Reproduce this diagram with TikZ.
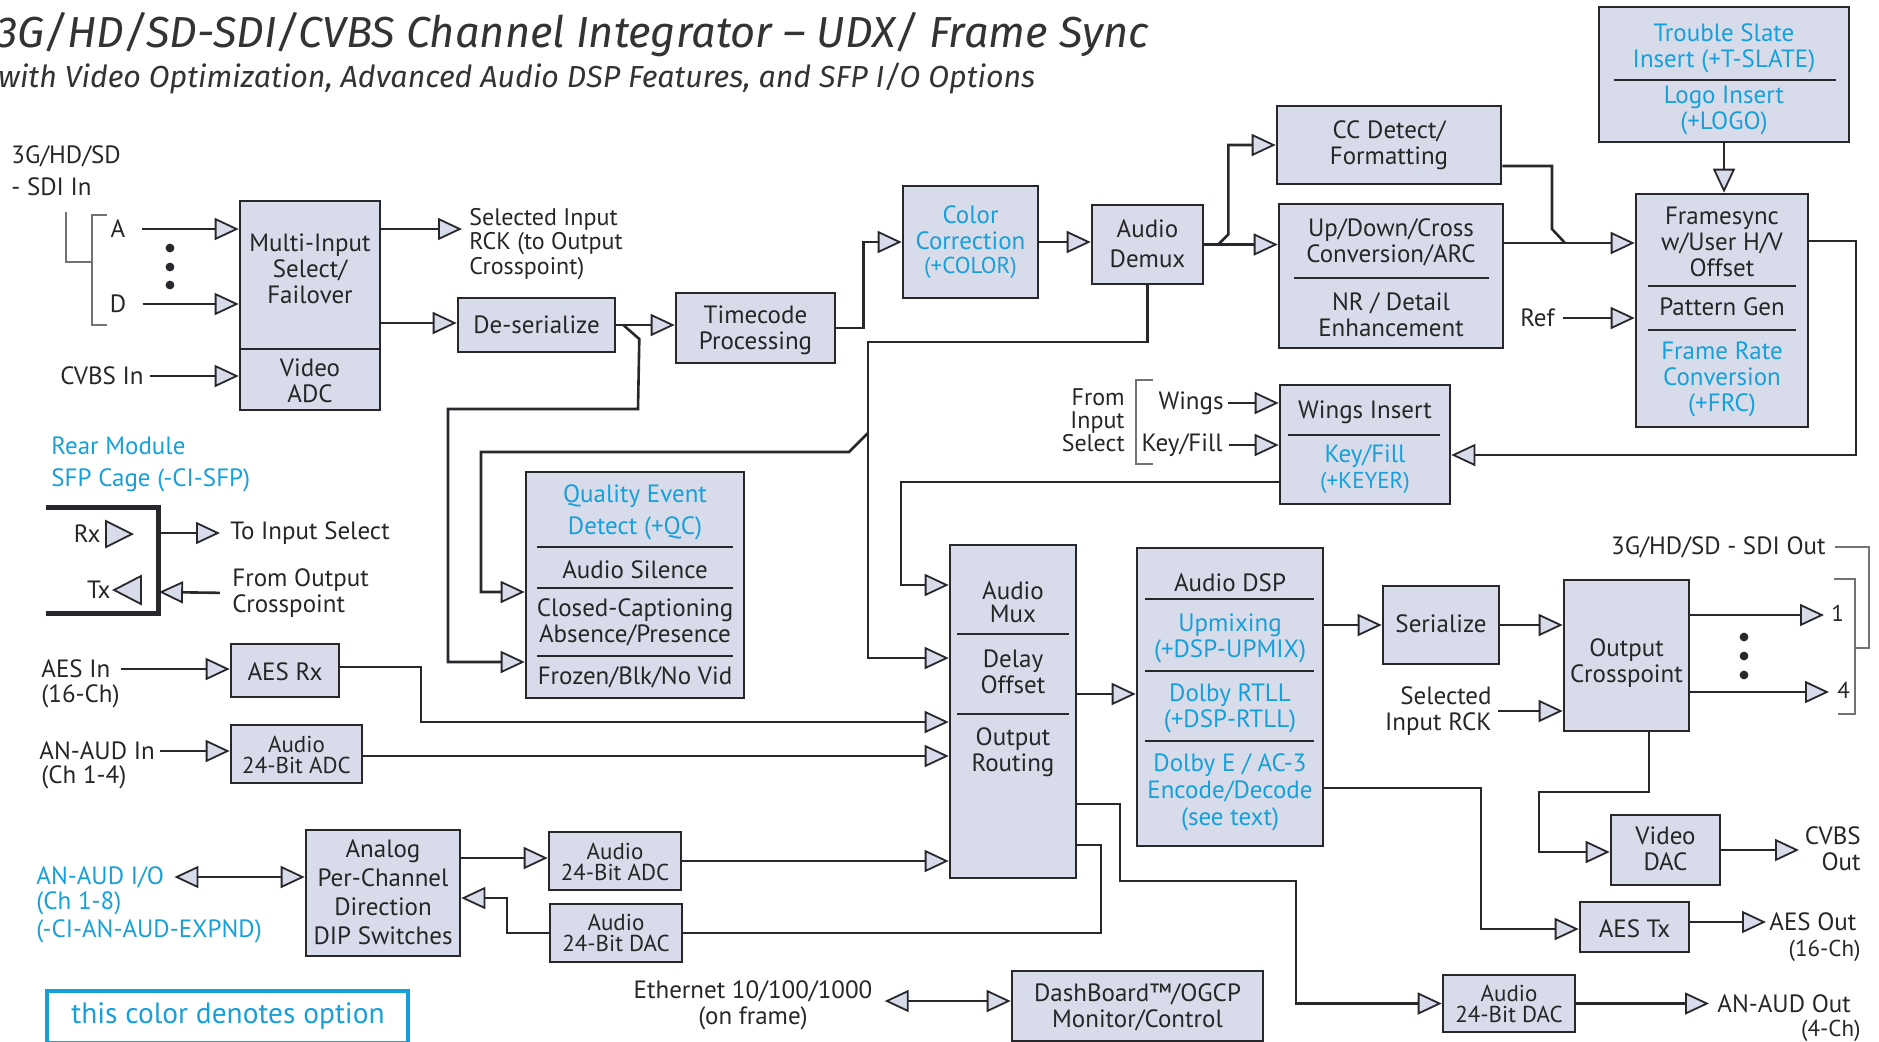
\documentclass[tikz,border=0pt]{standalone}
\usepackage{fontspec}
\setmainfont{PT Sans}
\newfontfamily\titlefont{Fira Sans}
\usepackage{tikz}
\usepackage{xcolor}
\usetikzlibrary{arrows.meta, calc}
\definecolor{boxfill}{RGB}{216,219,234}
\definecolor{optblue}{RGB}{22,160,219}
\definecolor{linecol}{RGB}{40,40,44}

\begin{document}
\begin{tikzpicture}[x=0.5pt, y=-0.5pt, line join=miter,
  blk/.style={draw=linecol, fill=boxfill, line width=1.3pt, inner sep=0pt},
  lbl/.style={font=\fontsize{12.5}{13}\selectfont, align=center, inner sep=0pt, text=black!85},
  sml/.style={font=\fontsize{11.5}{10.5}\selectfont, align=center, inner sep=0pt, text=black!85},
  opt/.style={text=optblue},
  wire/.style={draw=linecol, line width=1.3pt},
  arr/.style={wire, -{Triangle[length=12pt, width=11pt, fill=boxfill, line width=0.9pt]}},
  darr/.style={wire, {Triangle[length=12pt, width=11pt, fill=boxfill, line width=0.9pt]}-{Triangle[length=12pt, width=11pt, fill=boxfill, line width=0.9pt]}},
  sep/.style={draw=linecol, line width=0.9pt},
  brk/.style={draw=black!55, line width=0.8pt}]
\useasboundingbox (0,0) rectangle (1879,1041);

% Title
\node[anchor=base west, inner sep=0pt, font=\titlefont\itshape\fontsize{21.7}{22}\selectfont, text=black!80] (title) at (-4,47) {3G/HD/SD-SDI/CVBS Channel Integrator – UDX/ Frame Sync};
\node[anchor=base west, inner sep=0pt, font=\titlefont\itshape\fontsize{15.2}{16}\selectfont, text=black!80] (subtitle) at (-2,87) {with Video Optimization, Advanced Audio DSP Features, and SFP I/O Options};

% SDI inputs and input select
\node[lbl, anchor=west, align=left] (sdiin) at (11,171) {3G/HD/SD\\[3pt]- SDI In};
\draw[brk] (107,215) -- (92,215) -- (92,325) -- (107,325);
\draw[brk] (66,212) -- (66,262) -- (92,262);
\node[lbl] (ina) at (118,229) {A};
\node[lbl] (ind) at (118,304) {D};
\foreach \y in {248,267,285} {
    \fill[linecol] (170,\y) circle (2.2pt);
}
\node[lbl, anchor=east] (cvbsin) at (144,376) {CVBS In};
\node[blk, minimum width=70pt, minimum height=104.5pt] (mis) at (310,305.5) {};
\draw[sep] (mis.west |- 0,349) -- (mis.east |- 0,349);
\node[lbl] (mist) at (310,269) {Multi-Input\\Select/\\Failover};
\node[lbl] (misv) at (310,381) {Video\\ADC};
\node[lbl, anchor=west, align=left, font=\fontsize{12}{12.3}\selectfont] (selrck) at (469,244) {Selected Input\\RCK (to Output\\Crosspoint)};
\coordinate (selrcktip) at (462,229);

% Video path
\node[blk, minimum width=78.5pt, minimum height=27pt] (des) at (536.5,325) {};
\node[lbl] (dest) at (536.5,325) {De-serialize};
\node[blk, minimum width=79.5pt, minimum height=35pt] (tc) at (755.5,328) {};
\node[lbl] (tct) at (755.5,330) {Timecode\\Processing};
\node[blk, minimum width=67.5pt, minimum height=56pt] (cc) at (970.5,242) {};
\node[lbl, opt] (cct) at (970.5,228) {Color\\Correction};
\node[sml, opt] (cco) at (970.5,268) {(+COLOR)};
\node[blk, minimum width=55.5pt, minimum height=39.5pt] (dmx) at (1147.5,244.5) {};
\node[lbl] (dmxt) at (1147.5,244) {Audio\\[2pt]Demux};
\node[blk, minimum width=112pt, minimum height=39pt] (ccd) at (1389,145) {};
\node[lbl] (ccdt) at (1389,145) {CC Detect/\\Formatting};
\node[blk, minimum width=112pt, minimum height=72pt] (udc) at (1391,276) {};
\draw[sep] (1294,278) -- (1489,278);
\node[lbl] (udct) at (1391,242) {Up/Down/Cross\\Conversion/ARC};
\node[lbl] (udcn) at (1391,315) {NR / Detail\\Enhancement};
\node[blk, minimum width=125pt, minimum height=67.5pt] (slate) at (1724,74.5) {};
\draw[sep] (1614,80) -- (1836,80);
\node[lbl, opt] (slatet) at (1724,48) {Trouble Slate\\Insert (+T-SLATE)};
\node[lbl, opt] (slatel) at (1724,110) {Logo Insert\\(+LOGO)};
\node[blk, minimum width=86pt, minimum height=116.5pt] (fs) at (1722,310.5) {};
\foreach \y in {286,330} {
    \draw[sep] (1648,\y) -- (1796,\y);
}
\node[lbl] (fst) at (1722,242) {Framesync\\w/User H/V\\Offset};
\node[lbl] (fsp) at (1722,307) {Pattern Gen};
\node[lbl, opt] (fsf) at (1722,379) {Frame Rate\\Conversion\\(+FRC)};
\node[lbl, anchor=east] (ref) at (1555,318) {Ref};

% Wings / keyer
\node[lbl, anchor=east, align=right, font=\fontsize{12}{11.5}\selectfont] (fromsel) at (1125,420) {From\\Input\\Select};
\draw[brk] (1153,380) -- (1136,380) -- (1136,464) -- (1153,464);
\node[lbl, anchor=east] (wlab) at (1224,403) {Wings};
\node[lbl, anchor=east] (klab) at (1223,445) {Key/Fill};
\node[blk, minimum width=85pt, minimum height=59.5pt] (wng) at (1365,444.5) {};
\draw[sep] (1288,435) -- (1440,435);
\node[lbl] (wngt) at (1365,412) {Wings Insert};
\node[lbl, opt] (wngk) at (1365,469) {Key/Fill\\{\fontsize{11.5}{13}\selectfont(+KEYER)}};

% Rear module SFP
\node[lbl, opt, anchor=west, align=left] (rear) at (51,464) {Rear Module\\[3pt]SFP Cage (-CI-SFP)};
\draw[linecol, line width=2.5pt] (46,507) -- (158,507) -- (158,613) -- (46,613);
\node[lbl, anchor=east] (rx) at (101,534) {Rx};
\filldraw[fill=boxfill, draw=linecol, line width=0.9pt] (106,521) -- (132,534) -- (106,547) -- cycle;
\node[lbl, anchor=east] (tx) at (111,590) {Tx};
\filldraw[fill=boxfill, draw=linecol, line width=0.9pt] (141,576) -- (114,590) -- (141,604) -- cycle;
\coordinate (sfprx) at (158,533);
\coordinate (sfptx) at (159,592);
\node[lbl, anchor=west] (toin) at (230,533) {To Input Select};
\node[lbl, anchor=west, align=left] (fromout) at (232,593) {From Output\\Crosspoint};

% Quality event detect
\node[blk, minimum width=109pt, minimum height=113pt] (qc) at (635,585) {};
\foreach \y in {547,588,656} {
    \draw[sep] (537,\y) -- (733,\y);
}
\node[lbl, opt] (qct) at (635,512) {Quality Event\\[3pt]Detect (+QC)};
\node[lbl] (qca) at (635,570) {Audio Silence};
\node[lbl] (qcc) at (635,622) {Closed-Captioning\\Absence/Presence};
\node[lbl] (qcf) at (635,677) {Frozen/Blk/No Vid};

% Audio inputs
\node[lbl, anchor=west] (aesin) at (41,669) {AES In};
\node[lbl, anchor=west] (aesinch) at (41,696) {(16-Ch)};
\node[blk, minimum width=54pt, minimum height=26.5pt] (aesrx) at (285,670.5) {};
\node[lbl] (aesrxt) at (285,672) {AES Rx};
\node[lbl, anchor=west] (anin) at (39,751) {AN-AUD In};
\node[lbl, anchor=west] (aninch) at (41,777) {(Ch 1-4)};
\node[blk, minimum width=65.5pt, minimum height=29pt] (uadc) at (296.5,754) {};
\node[sml] (uadct) at (296.5,755) {Audio\\24-Bit ADC};
\node[lbl, opt, anchor=west] (anio) at (36,877) {AN-AUD I/O};
\node[lbl, opt, anchor=west, align=left] (anioch) at (36,917) {(Ch 1-8)\\[1pt](-CI-AN-AUD-EXPND)};
\node[blk, minimum width=77pt, minimum height=63pt] (ana) at (383,893) {};
\node[lbl, font=\fontsize{12.5}{14.5}\selectfont] (anat) at (383,892) {Analog\\Per-Channel\\Direction\\DIP Switches};
\node[blk, minimum width=66pt, minimum height=29pt] (ladc) at (615,861) {};
\node[sml] (ladct) at (615,862) {Audio\\24-Bit ADC};
\node[blk, minimum width=66pt, minimum height=29pt] (ldac) at (616,933) {};
\node[sml] (ldact) at (616,933) {Audio\\24-Bit DAC};

% Audio mux and DSP
\node[blk, minimum width=63pt, minimum height=166.5pt] (mux) at (1013,711.5) {};
\foreach \y in {634,714} {
    \draw[sep] (957,\y) -- (1069,\y);
}
\node[lbl, font=\fontsize{12.5}{11.5}\selectfont] (muxa) at (1013,602) {Audio\\Mux};
\node[lbl] (muxd) at (1013,672) {Delay\\Offset};
\node[lbl] (muxo) at (1013,752) {Output\\Routing};
\node[blk, minimum width=93pt, minimum height=149pt] (dsp) at (1230,697) {};
\foreach \y in {599,671,741} {
    \draw[sep] (1145,\y) -- (1314,\y);
}
\node[lbl] (dspt) at (1230,583) {Audio DSP};
\node[lbl, opt] (dspu) at (1230,638) {Upmixing\\(+DSP-UPMIX)};
\node[lbl, opt] (dspr) at (1230,708) {Dolby RTLL\\(+DSP-RTLL)};
\node[lbl, opt, font=\fontsize{12.5}{13.5}\selectfont] (dspe) at (1230,792) {Dolby E / AC-3\\Encode/Decode\\(see text)};

% Outputs
\node[blk, minimum width=58pt, minimum height=39pt] (ser) at (1441,625) {};
\node[lbl] (sert) at (1441,624) {Serialize};
\node[blk, minimum width=62.5pt, minimum height=75.5pt] (ocp) at (1626.5,655.5) {};
\node[lbl] (ocpt) at (1626.5,663) {Output\\Crosspoint};
\node[lbl, anchor=east, align=right] (selr) at (1492,711) {Selected\\Input RCK};
\node[lbl, anchor=east] (sdiout) at (1826,547) {3G/HD/SD - SDI Out};
\draw[brk] (1835,547) -- (1869,547) -- (1869,648) -- (1855,648);
\draw[brk] (1834,579) -- (1855,579) -- (1855,714) -- (1838,714);
\node[sml, anchor=west] (o1) at (1831,613) {1};
\node[sml, anchor=west] (o4) at (1837,690) {4};
\foreach \y in {637,656,675} {
    \fill[linecol] (1744,\y) circle (2.2pt);
}
\node[blk, minimum width=54.5pt, minimum height=35pt] (vdac) at (1665.5,850) {};
\node[lbl] (vdact) at (1665.5,849) {Video\\DAC};
\node[lbl, anchor=east, align=right] (cvbsout) at (1861,849) {CVBS\\Out};
\coordinate (cvbstip) at (1799,850);
\node[blk, minimum width=54.5pt, minimum height=25pt] (aestx) at (1634.5,927) {};
\node[lbl] (aestxt) at (1634.5,929) {AES Tx};
\node[lbl, anchor=west] (aesout) at (1769,922) {AES Out};
\node[sml, anchor=east] (aesoutch) at (1861,951) {(16-Ch)};
\node[blk, minimum width=66pt, minimum height=28.5pt] (adac) at (1509,1003.5) {};
\node[sml] (adact) at (1509,1004) {Audio\\24-Bit DAC};
\node[lbl, anchor=west] (anout) at (1717,1004) {AN-AUD Out};
\node[sml, anchor=east] (anoutch) at (1861,1031) {(4-Ch)};

% Control
\node[lbl] (eth) at (753,1005) {Ethernet 10/100/1000\\(on frame)};
\node[blk, minimum width=125.5pt, minimum height=35pt] (dash) at (1137.5,1006) {};
\node[lbl] (dasht) at (1137.5,1007) {DashBoard™/OGCP\\Monitor/Control};

% Legend
\node[draw=optblue, line width=2.4pt, minimum width=180.5pt, minimum height=26pt, inner sep=0pt] (legend) at (227.5,1017) {};
\node[lbl, opt, font=\fontsize{14.7}{15}\selectfont] (legendt) at (228,1016) {this color denotes option};

% Connectors: input select and video path
\draw[arr, shorten <=8pt] (ina.east) -- (ina.east -| mis.west);
\draw[arr, shorten <=8pt] (ind.east) -- (ind.east -| mis.west);
\draw[arr, shorten <=3pt] (cvbsin.east) -- (cvbsin.east -| mis.west);
\draw[arr] (mis.east |- selrcktip) -- (selrcktip);
\draw[arr] (mis.east |- 0,323) -- (des.west |- 0,323);
\draw[arr] (des.east) -- (des.east -| tc.west);
\draw[arr] ($(des.east)+(7,0)$) -- ++(16,14) -- (638,409) -- (448,409) |- (qc.west |- 0,662);
\draw[arr] (tc.east) -- ++(27,0) |- (cc.west);
\draw[arr] (cc.east) -- (cc.east -| dmx.west);
\draw[arr] (dmx.east) -- (dmx.east -| udc.west);
\draw[arr] ($(dmx.east)+(14,0)$) -- ++(10,-10) |- (ccd.west);
\draw[arr] (dmx.south) |- (868,342) |- (mux.west |- 0,658);
\coordinate (dmxbr) at (868,433);
\draw[arr] (dmxbr) -- ++(-19,19) -| (481,592) -- (qc.west |- 0,592);
\draw[wire] (ccd.east |- 0,166) -- (1552,166) -- (1552,229) -- (1565,243);
\draw[arr] (udc.east |- 0,243) -- (fs.west |- 0,243);
\draw[arr] (slate.south) -- (slate.south |- fs.north);
\draw[arr, shorten <=4pt] (ref.east) -- (ref.east -| fs.west);
\draw[arr] (fs.east |- 0,241) -- (1856,241) |- (wng.east |- 0,455);
\draw[arr, shorten <=2pt] (wlab.east) -- (wlab.east -| wng.west);
\draw[arr, shorten <=3pt] (klab.east) -- (klab.east -| wng.west);

% Connectors: SFP
\draw[arr, shorten >=5pt] (sfprx) -- (toin.west);
\draw[arr, shorten <=6pt] (fromout.west) -- (sfptx);

% Connectors: audio
\draw[arr] (wng.west |- 0,482) -- (901,482) |- (mux.west |- 0,585);
\draw[arr, shorten <=5pt] (aesin.east) -- (aesin.east -| aesrx.west);
\draw[arr] (aesrx.east |- 0,667) -- (421,667) |- (mux.west |- 0,722);
\draw[arr, shorten <=2.5pt] (anin.east) -- (anin.east -| uadc.west);
\draw[arr] (uadc.east |- 0,756) -- (mux.west |- 0,756);
\draw[darr, shorten <=5pt] (anio.east) -- (anio.east -| ana.west);
\draw[arr] (ana.east |- 0,858) -- (ladc.west |- 0,858);
\draw[arr] (ldac.west) -- (507,933) |- (ana.east |- 0,898);
\draw[arr] (ladc.east) -- (ladc.east -| mux.west);
\draw[wire] (mux.east |- 0,845) -- (1101,845) |- (ldac.east);
\draw[arr] (mux.east |- 0,804) -- (1120,804) -- (1120,881) -- (1296,881) |- (adac.west);
\draw[arr] (mux.east |- 0,694) -- (dsp.west |- 0,694);

% Connectors: outputs
\draw[arr] (dsp.east |- ser.west) -- (ser.west);
\draw[arr] (ser.east) -- (ser.east -| ocp.west);
\draw[arr, shorten <=3pt] (selr.east) -- (selr.east -| ocp.west);
\draw[arr, shorten >=3.5pt] (ocp.east |- 0,615) -- (o1.west |- 0,615);
\draw[arr, shorten >=4pt] (ocp.east |- 0,692) -- (o4.west |- 0,692);
\draw[arr] (ocp.south -| 1649,0) -- (1649,792) -- (1539,792) |- (vdac.west |- 0,852);
\draw[arr] (vdac.east) -- (cvbstip);
\draw[arr] (dsp.east |- 0,788) -- (1481,788) |- (aestx.west |- 0,929);
\draw[arr, shorten >=1.5pt] (aestx.east |- 0,922) -- (aesout.west |- 0,922);
\draw[arr, shorten >=4pt] (adac.east) -- (adac.east -| anout.west);
\draw[darr, shorten <=6pt] (eth.east |- 0,1001) -- (dash.west |- 0,1001);
\end{tikzpicture}
\end{document}
